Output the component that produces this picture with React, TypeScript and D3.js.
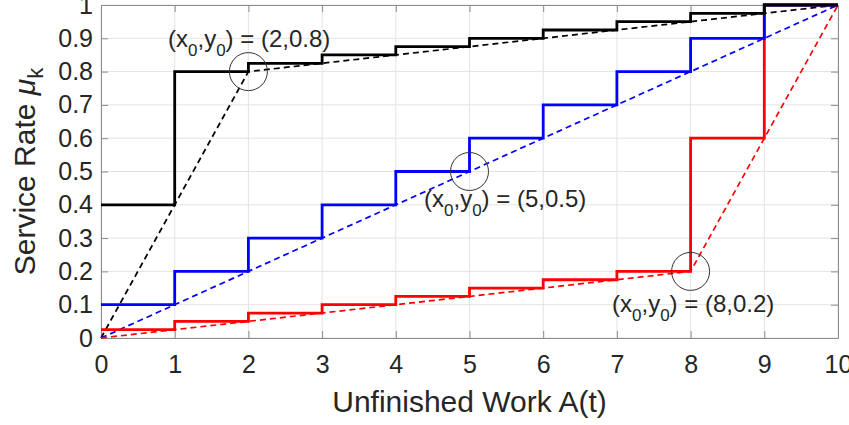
import React, { useRef, useEffect } from 'react';
import * as d3 from 'd3';

// x positions (unfinished work) and tick labels
const xTicks = [0, 1, 2, 3, 4, 5, 6, 7, 8, 9, 10];
const yTicks = [0, 0.1, 0.2, 0.3, 0.4, 0.5, 0.6, 0.7, 0.8, 0.9, 1];

// step levels on each interval [k, k+1)
const blackSteps = [0.4, 0.8, 0.825, 0.85, 0.875, 0.9, 0.925, 0.95, 0.975, 1.0];
const blueSteps = [0.1, 0.2, 0.3, 0.4, 0.5, 0.6, 0.7, 0.8, 0.9, 1.0];
const redSteps = [0.025, 0.05, 0.075, 0.1, 0.125, 0.15, 0.175, 0.2, 0.6, 1.0];

// dashed piecewise-linear curves through (x0, y0)
const blackDashX = [0, 2, 10];
const blackDashY = [0, 0.8, 1];
const blueDashX = [0, 5, 10];
const blueDashY = [0, 0.5, 1];
const redDashX = [0, 8, 10];
const redDashY = [0, 0.2, 1];

// annotated points and their labels
const markX = [2, 5, 8];
const markY = [0.8, 0.5, 0.2];
const markLabel = ['(2,0.8)', '(5,0.5)', '(8,0.2)'];
const labelPos = [
  [168, 47],
  [424, 207],
  [612, 312],
];

const App = () => {
  const svgRef = useRef(null);

  useEffect(() => {
    const w = 849;
    const h = 425;
    const m = { left: 101, right: 11, top: 5, bottom: 87 };
    const svg = d3.select(svgRef.current);
    svg.selectAll('*').remove();

    const x = d3.scaleLinear().domain([0, 10]).range([m.left, w - m.right]);
    const y = d3.scaleLinear().domain([0, 1]).range([h - m.bottom, m.top]);
    const font = 'Liberation Sans, Arial, sans-serif';
    const axisColor = '#262626';

    // grid
    const grid = svg.append('g');
    grid
      .selectAll('.gx')
      .data(xTicks)
      .join('line')
      .attr('x1', (d) => x(d))
      .attr('x2', (d) => x(d))
      .attr('y1', y(0))
      .attr('y2', y(1))
      .style('stroke', '#e3e3e3')
      .style('stroke-width', 1);
    grid
      .selectAll('.gy')
      .data(yTicks)
      .join('line')
      .attr('y1', (d) => y(d))
      .attr('y2', (d) => y(d))
      .attr('x1', x(0))
      .attr('x2', x(10))
      .style('stroke', '#e3e3e3')
      .style('stroke-width', 1);

    // axes
    const tl = 7;
    const xAxis = d3.axisBottom(x).tickValues(xTicks).tickSize(-tl).tickSizeOuter(0).tickPadding(17).tickFormat(d3.format('d'));
    const yAxis = d3.axisLeft(y).tickValues(yTicks).tickSize(-tl).tickSizeOuter(0).tickPadding(8).tickFormat((d) => String(d));
    const xTop = d3.axisTop(x).tickValues(xTicks).tickSize(-tl).tickSizeOuter(0).tickFormat(() => '');
    const yRight = d3.axisRight(y).tickValues(yTicks).tickSize(-tl).tickSizeOuter(0).tickFormat(() => '');

    const axes = [
      svg.append('g').attr('transform', `translate(0, ${y(0)})`).call(xAxis),
      svg.append('g').attr('transform', `translate(${x(0)}, 0)`).call(yAxis),
      svg.append('g').attr('transform', `translate(0, ${y(1)})`).call(xTop),
      svg.append('g').attr('transform', `translate(${x(10)}, 0)`).call(yRight),
    ];
    axes.forEach((g) => {
      g.select('.domain').style('stroke', '#8c8c8c').style('stroke-width', 1);
      g.selectAll('.tick line').style('stroke', '#8c8c8c');
      g.selectAll('.tick text')
        .style('font-family', font)
        .style('font-size', '25px')
        .style('fill', axisColor);
    });

    // dashed lines
    const dashLine = d3
      .line()
      .x((d) => x(d[0]))
      .y((d) => y(d[1]));
    const dashes = [
      [blackDashX, blackDashY, '#000000'],
      [blueDashX, blueDashY, '#0000ff'],
      [redDashX, redDashY, '#ff0000'],
    ];
    dashes.forEach(([xs, ys, c]) => {
      svg
        .append('path')
        .attr('d', dashLine(xs.map((v, i) => [v, ys[i]])))
        .style('fill', 'none')
        .style('stroke', c)
        .style('stroke-width', 1.7)
        .style('stroke-dasharray', '6,4');
    });

    // step lines
    const stepLine = d3
      .line()
      .x((d) => x(d[0]))
      .y((d) => y(d[1]))
      .curve(d3.curveStepAfter);
    const steps = [
      [redSteps, '#ff0000'],
      [blueSteps, '#0000ff'],
      [blackSteps, '#000000'],
    ];
    steps.forEach(([vals, c]) => {
      const pts = vals.map((v, i) => [i, v]);
      pts.push([vals.length, vals[vals.length - 1]]);
      svg
        .append('path')
        .attr('d', stepLine(pts))
        .style('fill', 'none')
        .style('stroke', c)
        .style('stroke-width', 2.8);
    });

    // circles around (x0, y0)
    svg
      .selectAll('.mark')
      .data(markX)
      .join('circle')
      .attr('cx', (d) => x(d))
      .attr('cy', (d, i) => y(markY[i]))
      .attr('r', 19)
      .style('fill', 'none')
      .style('stroke', '#333333')
      .style('stroke-width', 1);

    // annotation texts
    markLabel.forEach((lab, i) => {
      const t = svg
        .append('text')
        .attr('x', labelPos[i][0])
        .attr('y', labelPos[i][1])
        .style('font-family', font)
        .style('font-size', '24px')
        .style('fill', axisColor);
      t.append('tspan').text('(x');
      t.append('tspan').attr('dy', 9).style('font-size', '17px').text('0');
      t.append('tspan').attr('dy', -9).text(',y');
      t.append('tspan').attr('dy', 9).style('font-size', '17px').text('0');
      t.append('tspan').attr('dy', -9).text(') = ' + lab);
    });

    // axis labels
    svg
      .append('text')
      .attr('x', (x(0) + x(10)) / 2)
      .attr('y', 412)
      .attr('text-anchor', 'middle')
      .style('font-family', font)
      .style('font-size', '30px')
      .style('fill', axisColor)
      .text('Unfinished Work A(t)');

    const yl = svg
      .append('text')
      .attr('transform', `translate(35, ${(y(0) + y(1)) / 2}) rotate(-90)`)
      .attr('text-anchor', 'middle')
      .style('font-family', font)
      .style('font-size', '30px')
      .style('fill', axisColor);
    yl.append('tspan').text('Service Rate ');
    yl.append('tspan').style('font-style', 'italic').text('μ');
    yl.append('tspan').attr('dy', 8).style('font-size', '22px').text('k');
  }, []);

  return (
    <svg
      ref={svgRef}
      width={849}
      height={425}
      style={{ position: 'absolute', left: 0, top: 0, background: '#fff' }}
    ></svg>
  );
};

export default App;
